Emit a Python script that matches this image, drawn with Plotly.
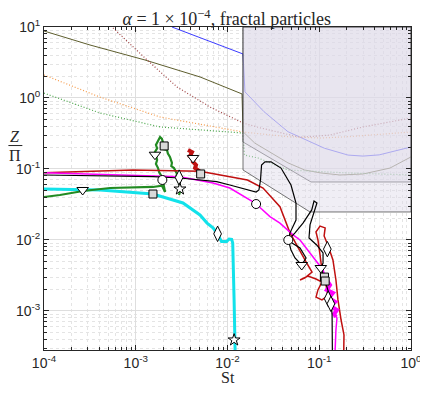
import numpy as np
import plotly.graph_objects as go

# theory curves (St, Z/Pi)
st_blue = [2.48e-3, 1.476e-2, 1.55e-2, 2.5e-2, 4.56e-2, 7.1e-2, 0.114, 0.206, 0.30, 0.45, 0.59, 1.0]
z_blue = [10, 4.17, 1.22, 0.641, 0.335, 0.256, 0.196, 0.157, 0.152, 0.158, 0.173, 0.204]

st_olive = [1e-4, 3.17e-4, 1.26e-3, 5.01e-3, 1.44e-2, 1.476e-2, 1.98e-2, 2.98e-2, 4.56e-2, 6.93e-2, 0.104, 0.168, 0.30, 0.59, 1.0]
z_olive = [8.78, 5.58, 3.43, 1.98, 1.14, 0.335, 0.232, 0.168, 0.122, 0.0968, 0.0879, 0.0823, 0.085, 0.103, 0.148]

st_brown = [5.65e-4, 1.33e-3, 2.82e-3, 6.44e-3, 1.476e-2, 2.3e-2, 6.17e-2, 0.13, 0.3, 1.0]
z_brown = [9.7, 3.43, 1.43, 0.746, 0.444, 0.378, 0.28, 0.30, 0.391, 0.523]

st_orange = [1e-4, 4.07e-4, 1.84e-3, 1.476e-2, 4.56e-2, 0.104, 0.206, 1.0]
z_orange = [2.11, 1.03, 0.540, 0.332, 0.285, 0.273, 0.285, 0.332]

st_green = [1e-4, 4.07e-4, 1.84e-3, 1.476e-2, 1.53e-2, 2.15e-2, 4.56e-2, 0.206, 1.0]
z_green = [1.17, 0.615, 0.391, 0.321, 0.157, 0.143, 0.0968, 0.0879, 0.0823]

# excluded regions
st_regA = [1.476e-2, 1.476e-2, 8.13e-2, 1.0, 1.0, 1.476e-2]
z_regA = [10, 0.240, 0.0656, 0.0656, 10, 10]
st_regB = [1.476e-2, 1.476e-2, 7.93e-2, 1.0, 1.0, 1.476e-2]
z_regB = [10, 0.0968, 0.0248, 0.0248, 10, 10]

# trajectories
st_cyan = [1e-4, 4.07e-4, 1.54e-3, 3.27e-3, 5.01e-3, 5.99e-3, 6.95e-3, 7.8e-3, 8.6e-3, 9.8e-3,
           1.04e-2, 1.11e-2, 1.14e-2, 1.16e-2, 1.18e-2, 1.21e-2]
z_cyan = [0.0523, 0.0506, 0.0444, 0.0332, 0.0225, 0.0173, 0.0148, 0.0122, 0.0095, 0.0095,
          0.0103, 0.0102, 0.0091, 0.00424, 0.00143, 2.8e-4]

st_dgreen = [1e-4, 1.49e-4, 2.66e-4, 5.24e-4, 1.54e-3, 1.93e-3, 2.09e-3, 2.03e-3, 1.93e-3, 1.80e-3,
             1.75e-3, 1.66e-3, 1.71e-3, 1.62e-3, 1.71e-3, 1.66e-3, 1.79e-3, 1.84e-3, 1.93e-3,
             2.03e-3, 2.0e-3, 2.19e-3, 2.24e-3, 2.36e-3, 2.48e-3, 2.44e-3, 2.61e-3, 2.82e-3,
             2.75e-3, 2.89e-3, 3.03e-3, 2.96e-3, 3.03e-3, 2.96e-3]
z_dgreen = [0.0403, 0.043, 0.049, 0.054, 0.0558, 0.058, 0.0474, 0.0595, 0.0771, 0.09,
            0.103, 0.118, 0.134, 0.174, 0.195, 0.218, 0.256, 0.282, 0.265,
            0.211, 0.19, 0.185, 0.165, 0.148, 0.122, 0.11, 0.103, 0.0851,
            0.078, 0.070, 0.0576, 0.052, 0.0474, 0.043]

st_red = [1e-4, 9.33e-4, 5.01e-3, 1.06e-2, 1.65e-2, 2.44e-2, 3.73e-2, 4.8e-2, 6.65e-2, 7.18e-2,
          8.34e-2, 7.0e-2, 6.17e-2, 7.54e-2, 9.22e-2, 0.107, 9.68e-2, 9.22e-2, 0.107, 0.124,
          0.119, 0.107, 0.102, 9.68e-2, 9.22e-2, 0.102, 0.116, 0.113, 0.124, 0.141, 0.152,
          0.160, 0.173, 0.186, 0.185]
z_red = [0.0887, 0.0968, 0.093, 0.0778, 0.070, 0.054, 0.0294, 0.0126, 0.00577, 0.0049,
         0.00354, 0.00292, 0.00273, 0.00311, 0.00282, 0.00256, 0.00198, 0.00157, 0.00143, 0.00163,
         0.00225, 0.00378, 0.00615, 0.010, 0.0130, 0.0157, 0.0148, 0.0114, 0.00851, 0.00523, 0.00273,
         0.00143, 7.46e-4, 4.59e-4, 2.82e-4]

st_redblob = [3.71e-3, 4.10e-3, 3.90e-3, 4.32e-3, 4.21e-3, 4.54e-3, 4.43e-3, 4.89e-3, 5.14e-3, 5.55e-3]
z_redblob = [0.185, 0.173, 0.152, 0.143, 0.126, 0.114, 0.103, 0.0937, 0.0851, 0.0823]

st_magenta = [1e-4, 9.33e-4, 3.03e-3, 6.95e-3, 1.06e-2, 2.0e-2, 2.9e-2, 3.73e-2, 5.18e-2, 6.17e-2,
              0.102, 0.110, 0.119, 0.131, 0.121, 0.141, 0.127, 0.149, 0.134, 0.156, 0.145,
              0.156, 0.152, 0.149]
z_magenta = [0.0887, 0.0823, 0.0778, 0.0635, 0.054, 0.0332, 0.0213, 0.0173, 0.0118, 0.010,
             0.00424, 0.00378, 0.00273, 0.00232, 0.00198, 0.0018, 0.00152, 0.00134, 0.00117, 0.00103, 9.07e-4,
             7.96e-4, 5.40e-4, 2.82e-4]

st_magblob = [0.117, 0.131, 0.121, 0.141, 0.127, 0.149, 0.134, 0.156, 0.145, 0.152]
z_magblob = [0.0029, 0.00232, 0.00198, 0.0018, 0.00152, 0.00134, 0.00117, 0.00103, 9.07e-4, 8.2e-4]

st_black = [1e-4, 4.07e-4, 1.54e-3, 3.03e-3, 7.62e-3, 1.06e-2, 1.76e-2, 2.05e-2, 2.20e-2, 2.29e-2,
            2.35e-2, 2.56e-2, 2.98e-2, 3.83e-2, 4.92e-2, 5.58e-2, 5.58e-2, 4.8e-2, 4.60e-2, 4.92e-2,
            5.44e-2, 6.44e-2, 7.18e-2, 6.17e-2, 5.05e-2, 4.60e-2, 5.44e-2, 6.65e-2, 8.28e-2, 8.77e-2,
            9.44e-2, 8.77e-2, 7.93e-2, 7.73e-2, 9.37e-2, 0.110, 0.110, 0.104, 0.113, 0.124, 0.134,
            0.138, 0.139]
z_black = [0.0823, 0.0797, 0.078, 0.0746, 0.0663, 0.0595, 0.0506, 0.0474, 0.0506, 0.070,
           0.114, 0.126, 0.126, 0.103, 0.0595, 0.0332, 0.0191, 0.0126, 0.010, 0.00723,
           0.00557, 0.00444, 0.00557, 0.00771, 0.00907, 0.010, 0.0126, 0.0173, 0.0265, 0.0354,
           0.0332, 0.0248, 0.0163, 0.0107, 0.00851, 0.00656, 0.00474, 0.00403, 0.00301, 0.00198, 0.00143,
           8.8e-4, 2.82e-4]

# markers on trajectories
st_circ = [1.95e-3, 2.05e-2, 4.60e-2]
z_circ = [0.070, 0.0321, 0.010]
st_tri = [2.64e-4, 1.62e-3, 4.21e-3, 6.44e-2, 0.104]
z_tri = [0.0506, 0.159, 0.143, 0.00444, 0.00403]
st_sq = [2.04e-3, 5.1e-3, 1.54e-3, 0.114, 0.116]
z_sq = [0.211, 0.0851, 0.0444, 0.0030, 0.00264]
st_dia = [2.97e-3, 7.8e-3, 0.1225, 0.125, 0.134]
z_dia = [0.0757, 0.0122, 0.00743, 0.00149, 0.00126]
st_star = [3.03e-3, 1.18e-2]
z_star = [0.0523, 3.91e-4]

x_tickvals = [1e-4, 1e-3, 1e-2, 1e-1, 1]
x_ticktext = ["10<sup>-4</sup>", "10<sup>-3</sup>", "10<sup>-2</sup>", "10<sup>-1</sup>", "10<sup>0</sup>"]
y_tickvals = [1e-3, 1e-2, 1e-1, 1, 10]
y_ticktext = ["10<sup>-3</sup>", "10<sup>-2</sup>", "10<sup>-1</sup>", "10<sup>0</sup>", "10<sup>1</sup>"]

fig = go.Figure()

def add_line(x, y, color, width, dash="solid"):
    fig.add_trace(go.Scatter(x=x, y=y, mode="lines", line=dict(color=color, width=width, dash=dash),
                             hoverinfo="skip"))

add_line(st_blue, z_blue, "#3b3bff", 1)
add_line(st_olive, z_olive, "#5e5e2e", 1)
add_line(st_brown, z_brown, "#a04545", 1.2, "1px,2px")
add_line(st_orange, z_orange, "#f59a4a", 1.2, "1px,2px")
add_line(st_green, z_green, "#4aa64a", 1.2, "1px,2px")

for sx, sz in [(st_regA, z_regA), (st_regB, z_regB)]:
    fig.add_trace(go.Scatter(x=sx, y=sz, mode="lines", fill="toself",
                             fillcolor="rgba(222,217,232,0.45)",
                             line=dict(color="rgba(50,50,50,0.85)", width=0.8), hoverinfo="skip"))

add_line(st_cyan, z_cyan, "#12e2ea", 3)
add_line(st_dgreen, z_dgreen, "#228b22", 2.2)
add_line(st_red, z_red, "#c01010", 1.5)
add_line(st_redblob, z_redblob, "#c01010", 4)
add_line(st_magenta, z_magenta, "#ff00ff", 1.5)
add_line(st_magblob, z_magblob, "#ff00ff", 4)
add_line(st_black, z_black, "#000000", 1.2)

def add_markers(x, y, symbol, size, fill="white"):
    fig.add_trace(go.Scatter(x=x, y=y, mode="markers",
                             marker=dict(symbol=symbol, size=size, color=fill,
                                         line=dict(color="black", width=1)),
                             hoverinfo="skip"))

add_markers(st_circ, z_circ, "circle", 9)
add_markers(st_tri, z_tri, "triangle-down", 10)
add_markers(st_sq, z_sq, "square", 8, "#d9d9d9")
add_markers(st_dia, z_dia, "diamond-tall", 11)
add_markers(st_star, z_star, "star", 9)

axis_common = dict(
    type="log", showline=True, linecolor="#262626", linewidth=0.8, mirror="ticks",
    ticks="inside", ticklen=5, tickcolor="#262626", automargin=False,
    showgrid=True, gridcolor="#dedede", gridwidth=1, zeroline=False,
    tickfont=dict(family="Liberation Sans", size=14, color="#262626"),
    minor=dict(ticks="inside", ticklen=3, tickcolor="#262626", dtick="D1",
               showgrid=True, gridcolor="#e4e4e4", griddash="dot", gridwidth=1),
)

# the page body adds an 8px offset, so the figure is sized to the visible window
fig.update_layout(
    width=420, height=389,
    margin=dict(l=36, r=17, t=19, b=47),
    plot_bgcolor="white", paper_bgcolor="white",
    showlegend=False,
    title=dict(text="<i>α</i> = 1 × 10<sup>−4</sup>, fractal particles", x=0.521, xanchor="center",
               y=0.972, yanchor="middle",
               font=dict(family="Liberation Serif", size=18, color="#262626")),
    xaxis=dict(range=[-4, 0], tickvals=x_tickvals, ticktext=x_ticktext, **axis_common),
    yaxis=dict(range=[np.log10(2.82e-4), 1], tickvals=y_tickvals, ticktext=y_ticktext, **axis_common),
)

fig.add_annotation(text="St", xref="paper", yref="paper", x=0.5, y=-0.084, yanchor="middle",
                   showarrow=False, font=dict(family="Liberation Serif", size=16, color="#262626"))
fig.add_annotation(text="<i>Z</i>", xref="paper", yref="paper", x=-0.078, y=0.66, xanchor="center",
                   yanchor="middle", showarrow=False,
                   font=dict(family="Liberation Serif", size=16, color="#262626"))
fig.add_annotation(text="Π", xref="paper", yref="paper", x=-0.078, y=0.603, xanchor="center",
                   yanchor="middle", showarrow=False,
                   font=dict(family="Liberation Serif", size=16, color="#262626"))
fig.add_shape(type="line", xref="paper", yref="paper", x0=-0.097, x1=-0.059, y0=0.633, y1=0.633,
              line=dict(color="#262626", width=1))

fig.write_html("out.html")
